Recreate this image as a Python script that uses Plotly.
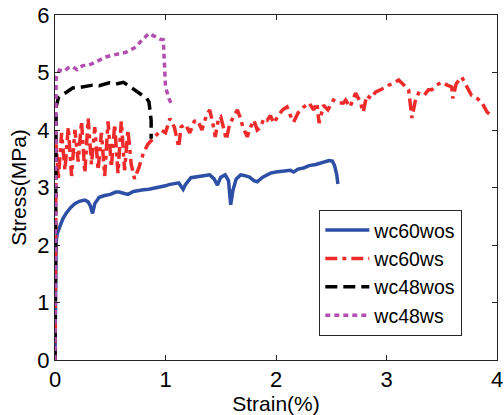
import plotly.graph_objects as go

# ---- stress-strain curves (strain in %, stress in MPa) ----
wc60wos_strain = [0, 0.005, 0.01, 0.02, 0.04, 0.07, 0.10, 0.14, 0.18, 0.22, 0.27, 0.30, 0.32, 0.34,
                  0.36, 0.40, 0.45, 0.50, 0.55, 0.58, 0.62, 0.66, 0.71, 0.76, 0.80, 0.85, 0.90, 0.95,
                  1.00, 1.03, 1.08, 1.12, 1.16, 1.18, 1.23, 1.28, 1.33, 1.40, 1.44, 1.47, 1.50, 1.54,
                  1.57, 1.59, 1.61, 1.64, 1.68, 1.71, 1.76, 1.80, 1.83, 1.88, 1.95, 2.00, 2.06, 2.13,
                  2.16, 2.20, 2.25, 2.30, 2.36, 2.43, 2.48, 2.51, 2.53, 2.55, 2.56]
wc60wos_stress = [0, 1.0, 2.05, 2.2, 2.3, 2.45, 2.55, 2.65, 2.72, 2.76, 2.78, 2.75, 2.68, 2.55,
                  2.72, 2.83, 2.86, 2.88, 2.92, 2.92, 2.90, 2.88, 2.93, 2.95, 2.96, 2.97, 2.99, 3.00,
                  3.03, 3.05, 3.06, 3.08, 2.97, 3.05, 3.17, 3.19, 3.20, 3.22, 3.15, 3.04, 3.18, 3.22,
                  3.12, 2.70, 2.95, 3.15, 3.22, 3.21, 3.18, 3.12, 3.10, 3.18, 3.25, 3.27, 3.28, 3.30,
                  3.27, 3.32, 3.34, 3.38, 3.40, 3.44, 3.47, 3.46, 3.38, 3.22, 3.06]

wc60ws_strain = [0, 0.01, 0.03, 0.06, 0.09, 0.12, 0.15, 0.18, 0.21, 0.24, 0.27, 0.30, 0.33, 0.36,
                 0.39, 0.42, 0.45, 0.48, 0.51, 0.54, 0.57, 0.60, 0.63, 0.66, 0.69, 0.72, 0.76, 0.80,
                 0.84, 0.88, 0.92, 0.96, 1.00, 1.04, 1.08, 1.12, 1.14, 1.18, 1.22, 1.26,
                 1.29, 1.33, 1.37, 1.40, 1.43, 1.45, 1.48, 1.50, 1.53, 1.55, 1.58, 1.62, 1.65, 1.68,
                 1.70, 1.74, 1.77, 1.80, 1.83, 1.86, 1.89, 1.92, 1.95, 1.98, 2.02, 2.06, 2.10, 2.13,
                 2.16, 2.20, 2.25, 2.30, 2.34, 2.37, 2.39, 2.43, 2.47, 2.52, 2.57, 2.61, 2.63, 2.67,
                 2.70, 2.72, 2.76, 2.79, 2.82, 2.86, 2.90, 2.95, 3.00, 3.02, 3.07, 3.11, 3.15, 3.20,
                 3.23, 3.26, 3.29, 3.34, 3.38, 3.41, 3.45, 3.50, 3.55, 3.59, 3.60, 3.63, 3.66, 3.68,
                 3.70, 3.73, 3.77, 3.82, 3.86, 3.91, 3.93]
wc60ws_stress = [0, 3.75, 3.15, 3.95, 3.3, 4.05, 3.2, 4.0, 3.45, 4.15, 3.25, 4.2, 3.4, 4.05,
                 3.3, 3.95, 3.2, 4.15, 3.35, 4.1, 3.25, 4.15, 3.3, 4.0, 3.4, 3.15, 3.35, 3.6,
                 3.75, 3.83, 3.9, 4.0, 3.95, 4.2, 4.05, 3.7, 4.05, 4.1, 3.95, 4.15,
                 4.17, 4.0, 4.25, 4.35, 4.1, 3.88, 4.2, 4.23, 4.0, 3.83, 4.1, 4.25, 4.35, 4.2,
                 4.05, 3.88, 4.05, 4.17, 4.0, 4.05, 4.2, 4.17, 4.25, 4.12, 4.25, 4.35, 4.4, 4.25,
                 4.14, 4.3, 4.4, 4.47, 4.35, 4.47, 4.12, 4.43, 4.35, 4.52, 4.47, 4.47, 4.52, 4.4,
                 4.55, 4.64, 4.5, 4.31, 4.6, 4.55, 4.66, 4.7, 4.75, 4.78, 4.82, 4.87, 4.8, 4.7,
                 4.21, 4.5, 4.64, 4.6, 4.7, 4.7, 4.78, 4.83, 4.78, 4.75, 4.55, 4.8, 4.88, 4.92,
                 4.85, 4.75, 4.6, 4.55, 4.49, 4.31, 4.28]

wc48wos_strain = [0, 0.005, 0.01, 0.03, 0.08, 0.12, 0.16, 0.22, 0.28, 0.34, 0.40, 0.45, 0.49,
                  0.55, 0.60, 0.62, 0.66, 0.70, 0.75, 0.79, 0.83, 0.85, 0.87, 0.87]
wc48wos_stress = [0, 2.0, 4.4, 4.56, 4.62, 4.68, 4.73, 4.74, 4.76, 4.78, 4.77, 4.80, 4.82,
                  4.80, 4.82, 4.83, 4.78, 4.73, 4.66, 4.61, 4.55, 4.49, 4.17, 3.85]

wc48ws_strain = [0, 0.005, 0.01, 0.04, 0.08, 0.12, 0.16, 0.20, 0.25, 0.31, 0.36, 0.41, 0.46, 0.52,
                 0.58, 0.64, 0.69, 0.73, 0.78, 0.82, 0.85, 0.88, 0.91, 0.95, 0.98, 0.99, 1.00, 1.03,
                 1.05]
wc48ws_stress = [0, 2.5, 4.9, 5.04, 5.02, 5.08, 5.10, 5.05, 5.12, 5.13, 5.18, 5.22, 5.27, 5.30,
                 5.33, 5.35, 5.40, 5.44, 5.55, 5.62, 5.68, 5.65, 5.62, 5.58, 5.57, 5.2, 4.75, 4.55,
                 4.47]

x_ticks = [0, 1, 2, 3, 4]
y_ticks = [0, 1, 2, 3, 4, 5, 6]

FONT = "Liberation Sans, Arial, sans-serif"

fig = go.Figure()
fig.add_trace(go.Scatter(x=wc60wos_strain, y=wc60wos_stress, mode="lines", name="wc60wos",
                         line=dict(color="#2E4FA6", width=3.5)))
fig.add_trace(go.Scatter(x=wc60ws_strain, y=wc60ws_stress, mode="lines", name="wc60ws",
                         line=dict(color="#EE2A2A", width=3.5, dash="12px,5px,4px,5px")))
fig.add_trace(go.Scatter(x=wc48wos_strain, y=wc48wos_stress, mode="lines", name="wc48wos",
                         line=dict(color="#000000", width=3.5, dash="12px,6px")))
fig.add_trace(go.Scatter(x=wc48ws_strain, y=wc48ws_stress, mode="lines", name="wc48ws",
                         line=dict(color="#B24FB0", width=3.5, dash="5px,4px")))

axis_common = dict(
    showline=True, linecolor="#262626", linewidth=1, mirror="ticks",
    ticks="inside", ticklen=5, tickcolor="#262626", showgrid=False, zeroline=False,
    tickfont=dict(family=FONT, size=22, color="black"),
    ticklabeloverflow="allow",
)

fig.update_layout(
    width=504, height=415,
    margin=dict(l=55, r=1, t=15, b=55),
    paper_bgcolor="white", plot_bgcolor="white",
    font=dict(family=FONT, color="black"),
    xaxis=dict(range=[0, 4], tickvals=x_ticks,
               title=dict(text="Strain(%)", font=dict(family=FONT, size=21), standoff=0),
               **axis_common),
    yaxis=dict(range=[0, 6], tickvals=y_ticks,
               title=dict(text="Stress(MPa)", font=dict(family=FONT, size=21), standoff=4),
               **axis_common),
    legend=dict(x=0.598, y=0.435, xanchor="left", yanchor="top",
                bgcolor="white", bordercolor="#262626", borderwidth=1, itemwidth=44,
                font=dict(family=FONT, size=19.5, color="black")),
    showlegend=True,
)

fig.write_html("out.html")
